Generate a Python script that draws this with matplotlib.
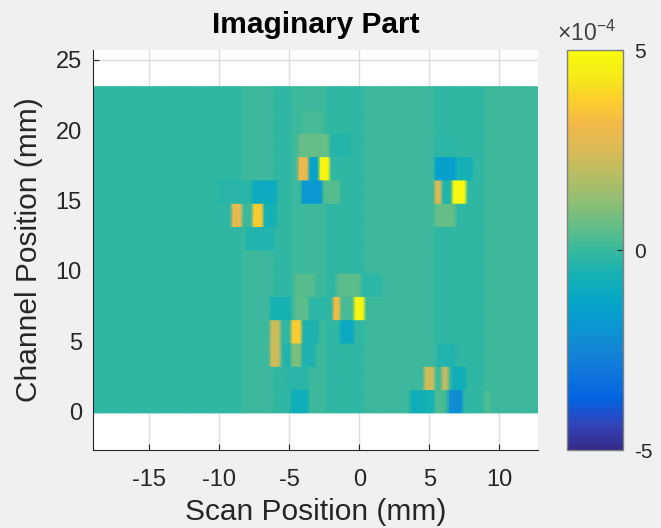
import numpy as np
import matplotlib
matplotlib.use('Agg')
import matplotlib.pyplot as plt
from matplotlib.colors import LinearSegmentedColormap

plt.rcParams['font.family'] = ['Liberation Sans', 'DejaVu Sans']
plt.rcParams['axes.unicode_minus'] = False
plt.rcParams['mathtext.fontset'] = 'custom'
plt.rcParams['mathtext.rm'] = 'Liberation Sans'
plt.rcParams['mathtext.default'] = 'regular'

# scan axis (mm) and channel rows
x_min, x_max, x_step = -19.0, 12.75, 0.25
n_channels = 14
channel_lo, channel_hi = -0.1, 23.1

# background column bands: (x from, x to, value in 1e-4)
bg_bands = [
    (-19.0, -8.4, -0.15),
    (-8.4, -6.0, 0.05),
    (-6.0, -4.95, -0.15),
    (-4.95, -2.3, 0.05),
    (-2.3, 0.5, -0.15),
    (0.5, 5.5, 0.05),
    (5.5, 8.85, -0.15),
    (8.85, 12.8, 0.05),
]

# local features: (channel row, x from, x to, value in 1e-4)
features = [
    # upper middle
    (12, -4.0, -2.6, 0.2),
    (11, -4.35, -2.2, 0.6),
    (11, -2.2, -0.5, -0.35),
    (10, -4.35, -3.65, 3.0),
    (10, -3.5, -2.8, -1.4),
    (10, -2.8, -2.0, 4.8),
    (9, -4.1, -2.6, -1.8),
    (9, -2.6, -1.4, 0.4),
    # left
    (9, -10.2, -7.7, -0.3),
    (9, -7.7, -5.9, -1.0),
    (8, -9.1, -8.4, 2.8),
    (8, -7.7, -6.85, 3.6),
    (8, -6.85, -5.9, -0.6),
    (7, -8.2, -6.2, -0.4),
    # upper right
    (11, 5.5, 7.0, -0.2),
    (10, 5.3, 6.8, -1.6),
    (10, 6.8, 8.1, -0.7),
    (9, 5.4, 6.0, 2.5),
    (9, 6.0, 6.7, -0.4),
    (9, 6.7, 7.65, 4.9),
    (8, 5.5, 6.95, 0.6),
    # centre
    (5, -4.5, -3.0, 0.4),
    (5, -1.6, 0.05, 0.5),
    (5, 0.05, 1.7, -0.2),
    (4, -6.4, -4.95, -0.6),
    (4, -4.5, -3.7, 0.5),
    (4, -3.7, -2.0, -0.2),
    (4, -1.9, -1.25, 3.2),
    (4, -1.25, -0.4, 0.2),
    (4, -0.4, 0.4, 4.8),
    (3, -1.25, -0.3, -1.1),
    # lower left
    (3, -6.4, -5.65, 2.2),
    (3, -4.95, -4.1, 3.6),
    (3, -4.1, -2.8, -0.5),
    (2, -6.4, -5.55, 2.3),
    (2, -5.4, -4.9, -0.4),
    (2, -4.9, -4.1, 0.9),
    (2, -4.1, -3.1, -0.5),
    (1, -5.2, -3.7, -0.3),
    (0, -4.95, -3.5, -0.8),
    # lower right
    (2, 5.75, 6.95, -0.4),
    (1, 4.6, 5.3, 2.3),
    (1, 5.3, 5.9, 0.1),
    (1, 5.9, 6.5, 2.0),
    (1, 6.6, 7.7, -0.8),
    (0, 3.6, 4.6, -0.8),
    (0, 4.6, 5.3, -0.6),
    (0, 5.3, 6.2, 0.3),
    (0, 6.35, 7.3, -2.2),
    (0, 8.8, 9.4, 0.3),
]

x_ticks = [-15, -10, -5, 0, 5, 10]
y_ticks = [0, 5, 10, 15, 20, 25]
c_ticks = [-5, 0, 5]

# approximate MATLAB parula
parula = LinearSegmentedColormap.from_list('parula', [
    (0.2081, 0.1663, 0.5292), (0.1959, 0.2645, 0.7279), (0.0117, 0.3875, 0.8820),
    (0.0498, 0.4586, 0.8641), (0.0793, 0.5200, 0.8312), (0.0343, 0.5966, 0.8199),
    (0.0228, 0.6535, 0.7768), (0.0843, 0.6928, 0.7062), (0.2178, 0.7250, 0.6193),
    (0.3953, 0.7459, 0.5244), (0.5709, 0.7485, 0.4494), (0.7184, 0.7411, 0.3905),
    (0.8507, 0.7299, 0.3360), (0.9450, 0.7261, 0.2886), (0.9880, 0.8066, 0.1794),
    (0.9598, 0.9218, 0.0948), (0.9763, 0.9831, 0.0538)])

xs = np.arange(x_min, x_max + 1e-9, x_step)
C = np.zeros((n_channels, len(xs)))
for x0, x1, v in bg_bands:
    C[:, (xs >= x0) & (xs < x1)] = v
for row, x0, x1, v in features:
    C[row, (xs >= x0) & (xs < x1)] = v

edges = np.linspace(channel_lo, channel_hi, n_channels + 1)
Y = np.repeat(edges, 2)[1:-1]
C2 = np.repeat(C, 2, axis=0)

fig = plt.figure(figsize=(6.61, 5.28), dpi=100, facecolor='#f0f0f0')
ax = fig.add_axes([93/661, 78/528, 445/661, 400/528])
mesh = ax.pcolormesh(xs, Y, C2, cmap=parula, vmin=-5, vmax=5, shading='gouraud', zorder=2)

ax.set_xlim(-19.02, 12.76)
ax.set_ylim(-2.74, 25.71)
ax.set_xticks(x_ticks)
ax.set_yticks(y_ticks)
ax.grid(True, color='#dcdcdc', linewidth=1)
ax.set_axisbelow(True)
for s in ['top', 'right']:
    ax.spines[s].set_visible(False)
for s in ['left', 'bottom']:
    ax.spines[s].set_color('#262626')
ax.tick_params(direction='in', length=4, colors='#262626', labelsize=17)
ax.tick_params(axis='x', pad=13.5)
ax.tick_params(axis='y', pad=8)

ax.set_title('Imaginary Part', fontsize=21.5, fontweight='bold', pad=12)
ax.set_xlabel('Scan Position (mm)', fontsize=21.5, color='#262626', labelpad=5)
ax.set_ylabel('Channel Position (mm)', fontsize=21.5, color='#262626', labelpad=9)

cax = fig.add_axes([567/661, 78/528, 56/661, 400/528])
cb = fig.colorbar(mesh, cax=cax, ticks=c_ticks)
cb.outline.set_edgecolor('#808080')
cb.outline.set_linewidth(1)
cax.tick_params(direction='in', length=4, colors='#262626', labelsize=15, pad=8)
cax.text(-0.17, 1.01, r'$\times 10^{-4}$', transform=cax.transAxes,
         fontsize=16.5, color='#404040', ha='left', va='bottom')

fig.savefig('out.png', dpi=100, facecolor=fig.get_facecolor())
